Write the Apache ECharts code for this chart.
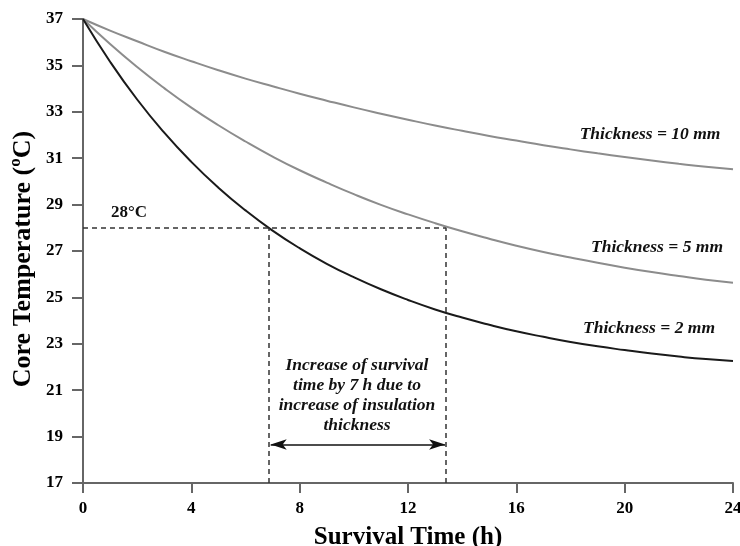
<!DOCTYPE html>
<html>
<head>
<meta charset="utf-8">
<script src="https://cdn.jsdelivr.net/npm/echarts@6/dist/echarts.min.js"></script>
<style>html,body{margin:0;padding:0;background:#fff}#c{width:740px;height:546px}</style>
</head>
<body>
<div id="c"></div>
<script>
// Survival time (h)
var hours = [0,1,2,3,4,5,6,7,8,9,10,11,12,13,14,15,16,17,18,19,20,21,22,23,24];
// Core temperature (°C)
var thick10 = [37,36.50,36.04,35.59,35.18,34.79,34.43,34.10,33.78,33.48,33.19,32.92,32.66,32.41,32.18,31.96,31.76,31.56,31.38,31.21,31.05,30.90,30.76,30.63,30.52];
var thick5  = [37,35.92,34.93,34.02,33.18,32.42,31.72,31.07,30.48,29.95,29.45,28.99,28.58,28.20,27.85,27.53,27.23,26.96,26.72,26.49,26.28,26.09,25.92,25.76,25.63];
var thick2  = [37,35.16,33.53,32.10,30.84,29.73,28.75,27.88,27.12,26.45,25.87,25.35,24.89,24.48,24.13,23.82,23.54,23.30,23.08,22.89,22.73,22.58,22.45,22.34,22.26];
var seriesNames = ['Thickness = 10 mm','Thickness = 5 mm','Thickness = 2 mm'];
var xTicks = [0,4,8,12,16,20,24];
var yTicks = [17,19,21,23,25,27,29,31,33,35,37];
var threshold = 28;            // °C
var crossTimes = [6.85, 13.4]; // h where 2 mm and 5 mm curves reach 28 °C
var arrowLevel = 18.66;        // °C
var arrowEnds = [6.93, 13.37];

function pairs(v){ return hours.map(function(h,i){ return [h, v[i]]; }); }

var serif = '"Liberation Serif", "DejaVu Serif", serif';
var chart = echarts.init(document.getElementById('c'), null, {renderer:'canvas'});
var dashStyle = {color:'#333', width:1.5, type:[5,4]};
var annFont = 'italic bold 17.5px ' + serif;

chart.setOption({
  animation:false,
  backgroundColor:'#fff',
  grid:{left:83, right:7, top:19, bottom:63, containLabel:false, outerBoundsMode:'none'},
  xAxis:{
    type:'value', min:0, max:24, interval:4,
    name:'Survival Time (h)', nameLocation:'middle', nameGap:42,
    nameTextStyle:{fontFamily:serif, fontWeight:'bold', fontSize:25, color:'#000'},
    axisLine:{show:true, lineStyle:{color:'#666', width:2}},
    axisTick:{show:true, length:10, lineStyle:{color:'#666', width:2}, customValues:xTicks},
    axisLabel:{fontFamily:serif, fontWeight:'bold', fontSize:17, color:'#000', margin:17, customValues:xTicks},
    splitLine:{show:false}
  },
  yAxis:{
    type:'value', min:17, max:37,
    axisLine:{show:true, lineStyle:{color:'#666', width:2}},
    axisTick:{show:true, length:11, lineStyle:{color:'#666', width:2}, customValues:yTicks},
    axisLabel:{fontFamily:serif, fontWeight:'bold', fontSize:17, color:'#000', margin:20, customValues:yTicks},
    splitLine:{show:false}
  },
  series:[
    {name:seriesNames[0], type:'line', data:pairs(thick10), smooth:true, showSymbol:false,
     lineStyle:{color:'#8c8c8c', width:2}},
    {name:seriesNames[1], type:'line', data:pairs(thick5), smooth:true, showSymbol:false,
     lineStyle:{color:'#8c8c8c', width:2}},
    {name:seriesNames[2], type:'line', data:pairs(thick2), smooth:true, showSymbol:false, z:3,
     lineStyle:{color:'#1a1a1a', width:2},
     markLine:{
       silent:true, symbol:['none','none'], label:{show:false}, lineStyle:dashStyle, animation:false,
       data:[
         [{coord:[0,threshold]},{coord:[crossTimes[1],threshold]}],
         [{coord:[crossTimes[0],17]},{coord:[crossTimes[0],threshold]}],
         [{coord:[crossTimes[1],17]},{coord:[crossTimes[1],threshold]}]
       ]
     }},
    {name:'arrow', type:'line', data:[],
     markLine:{
       silent:true, symbol:['arrow','arrow'], symbolSize:[8,16], label:{show:false}, animation:false,
       lineStyle:{color:'#111', width:1.5, type:'solid'},
       data:[[{coord:[arrowEnds[0],arrowLevel]},{coord:[arrowEnds[1],arrowLevel]}]]
     }}
  ],
  graphic:[
    {type:'text', x:23, y:259, rotation:Math.PI/2, style:{text:'Core Temperature (\u00BAC)', font:'bold 26px '+serif, fill:'#000', textAlign:'center', textVerticalAlign:'middle'}},
    {type:'text', x:650, y:134, style:{text:seriesNames[0], font:annFont, fill:'#111', textAlign:'center', textVerticalAlign:'middle'}},
    {type:'text', x:657, y:247, style:{text:seriesNames[1], font:annFont, fill:'#111', textAlign:'center', textVerticalAlign:'middle'}},
    {type:'text', x:649, y:328, style:{text:seriesNames[2], font:annFont, fill:'#111', textAlign:'center', textVerticalAlign:'middle'}},
    {type:'text', x:129, y:213, style:{text:'28\u00B0C', font:'bold 17px '+serif, fill:'#111', textAlign:'center', textVerticalAlign:'middle'}},
    {type:'text', x:357, y:395, style:{text:'Increase of survival\ntime by 7 h due to\nincrease of insulation\nthickness', font:annFont, lineHeight:20, fill:'#111', textAlign:'center', textVerticalAlign:'middle'}}
  ]
});
</script>
</body>
</html>
